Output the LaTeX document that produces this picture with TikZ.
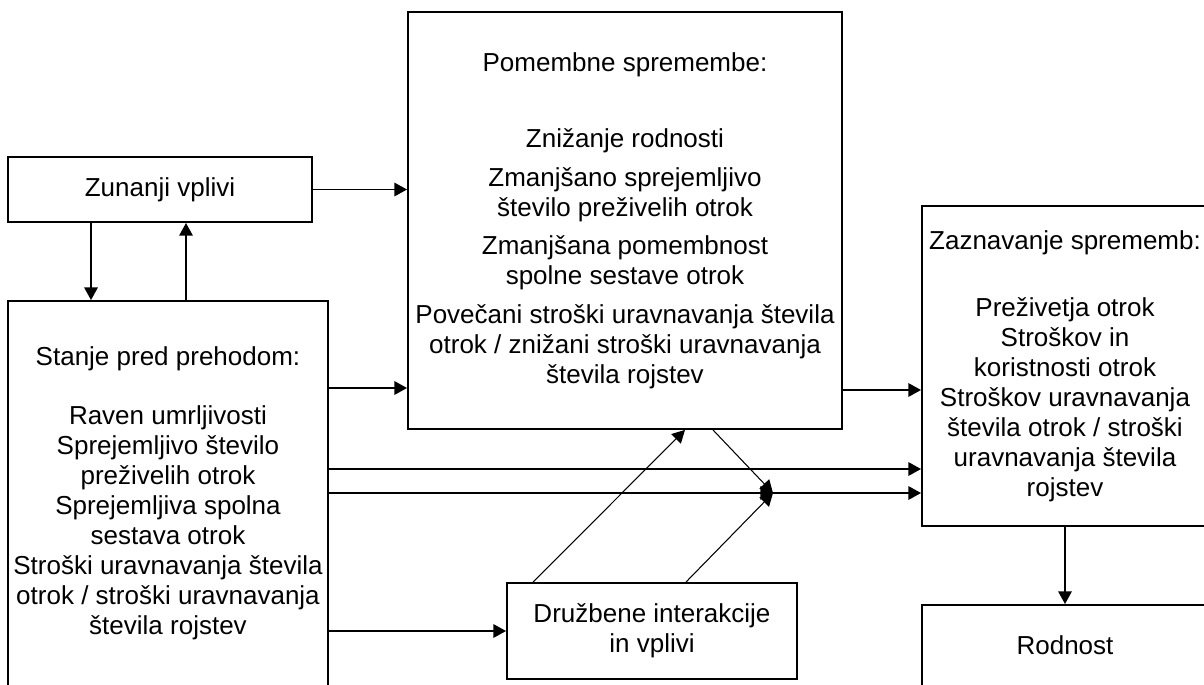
\documentclass[tikz,border=0pt]{standalone}
\usepackage{fontspec}
\setmainfont{Liberation Sans}
\usetikzlibrary{arrows.meta}

\begin{document}
\begin{tikzpicture}
            [x=0.02cm, y=-0.02cm,
             box/.style={draw, line width=1.1pt, inner sep=2pt, align=center,
                         font=\fontsize{14.8}{17.1}\selectfont},
             arr/.style={-{Triangle[length=7.2pt, width=7.6pt]}, line width=1.1pt},
             thinarr/.style={-{Triangle[length=7.2pt, width=7.6pt]}, line width=0.6pt}]
            % Fix the frame
            \useasboundingbox (0,0) rectangle (1204,684);

            % Place the boxes
            \node[box, minimum width=6.08cm, minimum height=1.3cm] (Zun) at (160,189.5)
                {Zunanji vplivi};  % Top left
            \node[box, minimum width=6.4cm, minimum height=7.7cm] (Stanje) at (168,493.5)
                {Stanje pred prehodom:\\[0.58cm]
                 Raven umrljivosti\\ Sprejemljivo število\\ preživelih otrok\\
                 Sprejemljiva spolna\\ sestava otrok\\ Stroški uravnavanja števila\\
                 otrok / stroški uravnavanja\\ števila rojstev};  % Bottom left
            \node[box, minimum width=8.68cm, minimum height=8.34cm] (Pom) at (625,220.5)
                {Pomembne spremembe:\\[0.92cm]
                 Znižanje rodnosti\\[0.18cm]
                 Zmanjšano sprejemljivo\\ število preživelih otrok\\[0.16cm]
                 Zmanjšana pomembnost\\ spolne sestave otrok\\[0.18cm]
                 Povečani stroški uravnavanja števila\\
                 otrok / znižani stroški uravnavanja\\ števila rojstev};  % Top middle
            \node[box, minimum width=5.8cm, minimum height=1.92cm] (Druz) at (652,631)
                {Družbene interakcije\\ in vplivi};  % Bottom middle
            \node[box, minimum width=5.72cm, minimum height=6.4cm] (Zaz) at (1065,366)
                {Zaznavanje sprememb:\\[0.74cm]
                 Preživetja otrok\\ Stroškov in\\ koristnosti otrok\\
                 Stroškov uravnavanja\\ števila otrok / stroški\\
                 uravnavanja števila\\ rojstev};  % Right
            \node[box, minimum width=5.72cm, minimum height=1.62cm] (Rod) at (1065,645.5)
                {Rodnost};  % Bottom right

            % Meeting point of the arrows
            \coordinate (J) at (773,493);

            % Draw arrows
            \draw[arr] (Zun.east) -- (Pom.west |- Zun.east);  % Zunanji to Pomembne
            \draw[arr] ([xshift=-1.38cm]Zun.south) -- ([xshift=-1.54cm]Stanje.north);  % Zunanji to Stanje
            \draw[arr] ([xshift=0.36cm]Stanje.north) -- ([xshift=0.52cm]Zun.south);  % Stanje to Zunanji
            \draw[arr] (Stanje.east |- 0,388) -- (Pom.west |- 0,388);  % Stanje to Pomembne
            \draw[arr] (Stanje.east |- 0,469) -- (Zaz.west |- 0,469);  % Stanje to Zaznavanje
            \draw[arr] (Stanje.east |- J) -- (J);  % Stanje to meeting point
            \draw[arr] (J) -- (Zaz.west |- J);  % meeting point to Zaznavanje
            \draw[arr] (Stanje.east |- Druz.west) -- (Druz.west);  % Stanje to Druzbene
            \draw[arr] (Pom.east |- 0,390) -- (Zaz.west |- 0,390);  % Pomembne to Zaznavanje
            \draw[arr] (Zaz.south) -- (Rod.north);  % Zaznavanje to Rodnost
            \draw[thinarr] ([xshift=-2.38cm]Druz.north) -- ([xshift=1.2cm]Pom.south);  % Druzbene to Pomembne
            \draw[thinarr] ([xshift=0.68cm]Druz.north) -- (J);  % Druzbene to meeting point
            \draw[thinarr] ([xshift=1.76cm]Pom.south) -- (J);  % Pomembne to meeting point
        \end{tikzpicture}
\end{document}
